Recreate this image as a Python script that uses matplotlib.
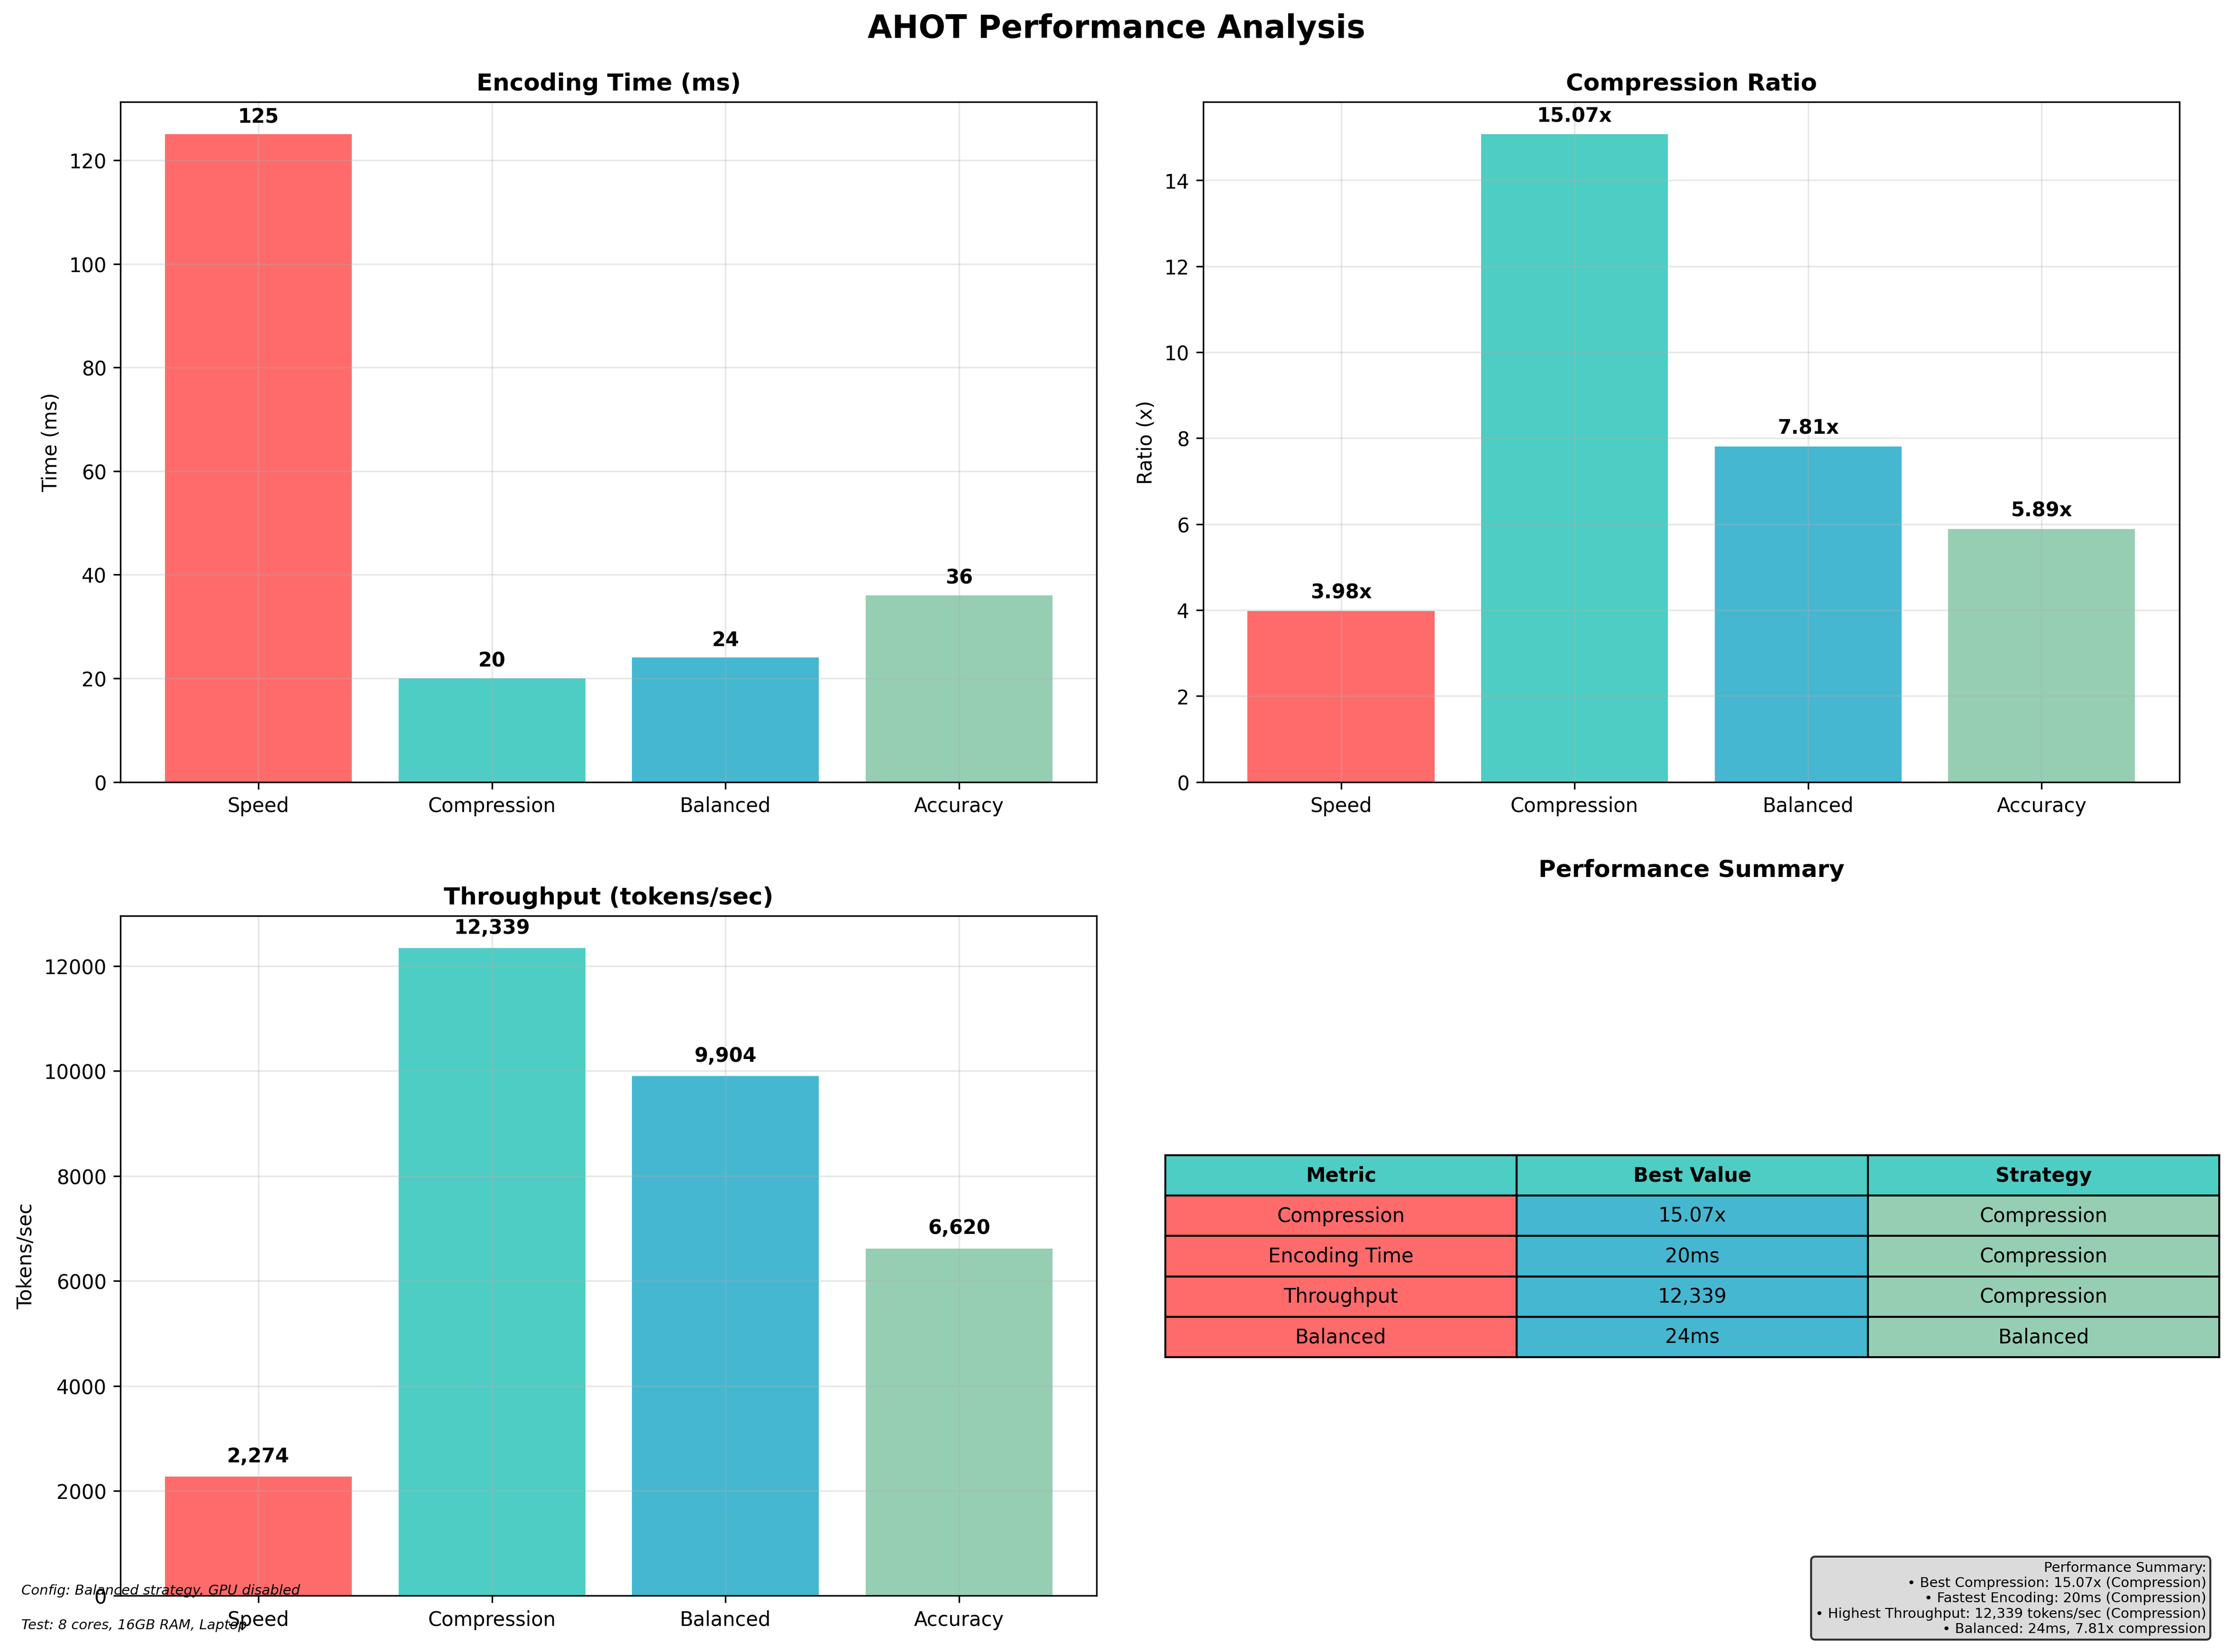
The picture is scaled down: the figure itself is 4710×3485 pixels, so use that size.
import matplotlib.pyplot as plt

strategies = ['Speed', 'Compression', 'Balanced', 'Accuracy']
encoding_ms = [125, 20, 24, 36]
ratios = [3.98, 15.07, 7.81, 5.89]
throughput = [2274, 12339, 9904, 6620]
colors = ['#FF6B6B', '#4ECDC4', '#45B7D1', '#96CEB4']

table_header = ['Metric', 'Best Value', 'Strategy']
table_rows = [['Compression', '15.07x', 'Compression'],
              ['Encoding Time', '20ms', 'Compression'],
              ['Throughput', '12,339', 'Compression'],
              ['Balanced', '24ms', 'Balanced']]

fig, axes = plt.subplots(2, 2, figsize=(15.7, 11.62))
plt.subplots_adjust(left=0.054, right=0.976, top=0.938, bottom=0.034,
                    wspace=0.109, hspace=0.197)
fig.suptitle('AHOT Performance Analysis', fontsize=16, fontweight='bold', y=0.992)


def bar_panel(ax, values, title, ylabel, fmt, offset):
    bars = ax.bar(strategies, values, color=colors)
    for b, v in zip(bars, values):
        ax.text(b.get_x() + b.get_width() / 2, b.get_height() + offset, fmt(v),
                ha='center', va='bottom', fontweight='bold', fontsize=10)
    ax.set_title(title, fontweight='bold', fontsize=12)
    ax.set_ylabel(ylabel)
    ax.grid(True, alpha=0.3)
    ax.tick_params(axis='x', labelsize=10)


bar_panel(axes[0, 0], encoding_ms, 'Encoding Time (ms)', 'Time (ms)',
          lambda v: f'{v:.0f}', 1.5)
bar_panel(axes[0, 1], ratios, 'Compression Ratio', 'Ratio (x)',
          lambda v: f'{v:.2f}x', 0.2)
bar_panel(axes[1, 0], throughput, 'Throughput (tokens/sec)', 'Tokens/sec',
          lambda v: f'{v:,}', 200)

# summary table
ax = axes[1, 1]
ax.axis('off')
ax.set_title('Performance Summary', fontweight='bold', fontsize=12, pad=20)
tbl = ax.table(cellText=table_rows, colLabels=table_header, cellLoc='center',
               bbox=[-0.039, 0.351, 1.080, 0.297])
tbl.auto_set_font_size(False)
tbl.set_fontsize(10)
for (r, c), cell in tbl.get_celld().items():
    if r == 0:
        cell.set_facecolor('#4ECDC4')
        cell.set_text_props(fontweight='bold')
    else:
        cell.set_facecolor(colors[[0, 2, 3][c]])

fig.text(0.0096, 0.035, 'Config: Balanced strategy, GPU disabled',
         fontsize=7, style='italic')
fig.text(0.0096, 0.014, 'Test: 8 cores, 16GB RAM, Laptop',
         fontsize=7, style='italic')

summary = ('Performance Summary:\n'
           '• Best Compression: 15.07x (Compression)\n'
           '• Fastest Encoding: 20ms (Compression)\n'
           '• Highest Throughput: 12,339 tokens/sec (Compression)\n'
           '• Balanced: 24ms, 7.81x compression')
fig.text(0.988, 0.01, summary, fontsize=7, ha='right', va='bottom',
         bbox=dict(boxstyle='round,pad=0.3', facecolor='lightgray', alpha=0.8))

plt.savefig('out.png', dpi=300)
